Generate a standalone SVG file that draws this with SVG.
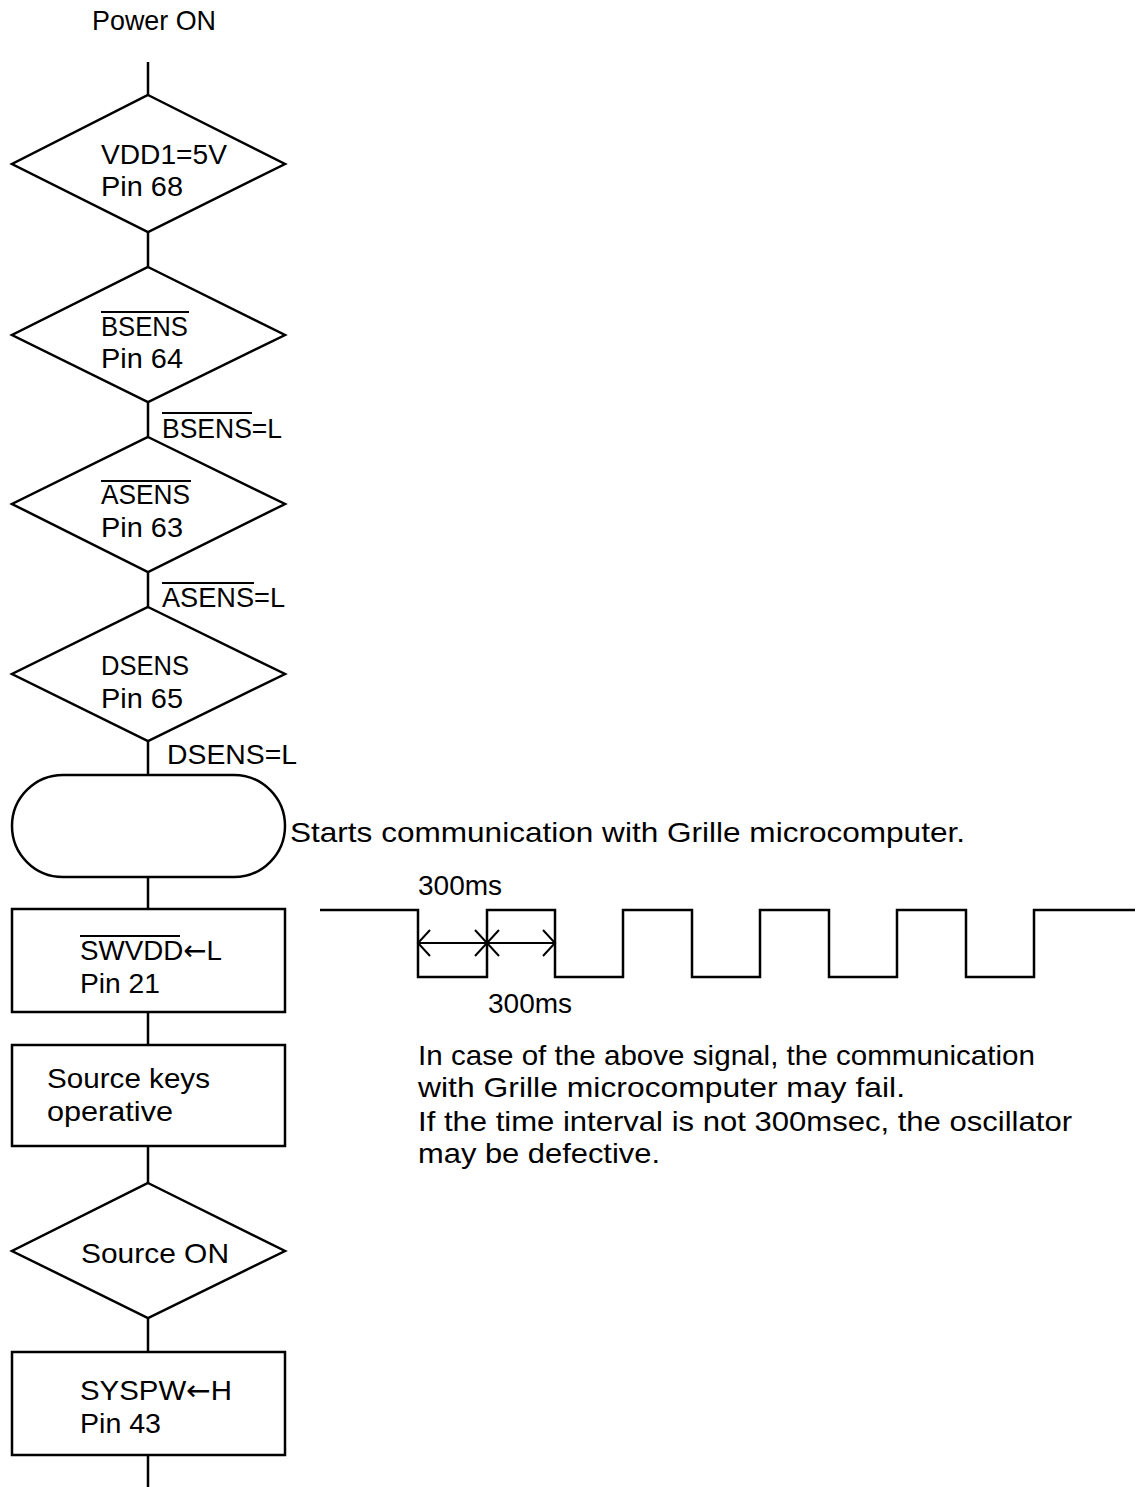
<svg xmlns="http://www.w3.org/2000/svg" width="1139" height="1487" viewBox="0 0 1139 1487">
<style>
.s{fill:none;stroke:#000;stroke-width:2.5}
.t{font-family:"Liberation Sans",Arial,sans-serif;font-size:28px;fill:#000}
.ar{font-family:"DejaVu Sans",sans-serif;font-size:28px}
.ob{stroke:#000;stroke-width:2}
.w{fill:none;stroke:#000;stroke-width:2.5}
</style>
<defs>
<marker id="oa" viewBox="-14 -14 16 28" refX="0" refY="0" markerWidth="16" markerHeight="28" markerUnits="userSpaceOnUse" orient="auto-start-reverse">
<path d="M-12,-13 L0,0 L-12,13" fill="none" stroke="#000" stroke-width="2"/>
</marker>
</defs>
<rect width="1139" height="1487" fill="#fff"/>
<text class="t" x="92" y="30" textLength="124" lengthAdjust="spacingAndGlyphs">Power ON</text>
<g id="connectors">
<path class="s" d="M148,62V95 M148,232V267 M148,402V437 M148,572V607 M148,741V775 M148,877V909 M148,1012V1045 M148,1146V1183 M148,1318V1352 M148,1455V1487"/>
</g>
<g id="n1"><polygon class="s" points="148,95 285,164 148,232 12,164"/>
<text class="t" x="101" y="164" textLength="126" lengthAdjust="spacingAndGlyphs">VDD1=5V</text><text class="t" x="101" y="196" textLength="82" lengthAdjust="spacingAndGlyphs">Pin 68</text></g>
<g id="n2"><polygon class="s" points="148,267 285,335 148,402 12,335"/>
<line class="ob" x1="101" y1="312" x2="189" y2="312"/>
<text class="t" x="101" y="336" textLength="87" lengthAdjust="spacingAndGlyphs">BSENS</text><text class="t" x="101" y="368" textLength="82" lengthAdjust="spacingAndGlyphs">Pin 64</text></g>
<g id="l1"><line class="ob" x1="162" y1="413" x2="252" y2="413"/><text class="t" x="162" y="438" textLength="120" lengthAdjust="spacingAndGlyphs">BSENS=L</text></g>
<g id="n3"><polygon class="s" points="148,437 285,504 148,572 12,504"/>
<line class="ob" x1="101" y1="481" x2="191" y2="481"/>
<text class="t" x="101" y="504" textLength="89" lengthAdjust="spacingAndGlyphs">ASENS</text><text class="t" x="101" y="537" textLength="82" lengthAdjust="spacingAndGlyphs">Pin 63</text></g>
<g id="l2"><line class="ob" x1="162" y1="583" x2="254" y2="583"/><text class="t" x="162" y="607" textLength="123" lengthAdjust="spacingAndGlyphs">ASENS=L</text></g>
<g id="n4"><polygon class="s" points="148,607 285,674 148,741 12,674"/>
<text class="t" x="101" y="675" textLength="88" lengthAdjust="spacingAndGlyphs">DSENS</text><text class="t" x="101" y="708" textLength="82" lengthAdjust="spacingAndGlyphs">Pin 65</text></g>
<g id="l3"><text class="t" x="167" y="764" textLength="130" lengthAdjust="spacingAndGlyphs">DSENS=L</text></g>
<g id="n5"><path class="s" d="M63,775H234A51,51 0 0 1 234,877H63A51,51 0 0 1 63,775Z"/></g>
<text class="t" x="290" y="842" textLength="675" lengthAdjust="spacingAndGlyphs">Starts communication with Grille microcomputer.</text>
<g id="n6"><rect class="s" x="12" y="909" width="273" height="103"/>
<line class="ob" x1="80" y1="936" x2="180" y2="936"/>
<text class="t" x="80" y="960" textLength="142" lengthAdjust="spacingAndGlyphs">SWVDD<tspan class="ar">←</tspan>L</text><text class="t" x="80" y="993" textLength="80" lengthAdjust="spacingAndGlyphs">Pin 21</text></g>
<g id="n7"><rect class="s" x="12" y="1045" width="273" height="101"/>
<text class="t" x="47" y="1088" textLength="163" lengthAdjust="spacingAndGlyphs">Source keys</text><text class="t" x="47" y="1121" textLength="126" lengthAdjust="spacingAndGlyphs">operative</text></g>
<g id="n8"><polygon class="s" points="148,1183 285,1251 148,1318 12,1251"/>
<text class="t" x="81" y="1263" textLength="148" lengthAdjust="spacingAndGlyphs">Source ON</text></g>
<g id="n9"><rect class="s" x="12" y="1352" width="273" height="103"/>
<text class="t" x="80" y="1400" textLength="152" lengthAdjust="spacingAndGlyphs">SYSPW<tspan class="ar">←</tspan>H</text><text class="t" x="80" y="1433" textLength="81" lengthAdjust="spacingAndGlyphs">Pin 43</text></g>
<g id="wave">
<path class="w" d="M320,910H418V977H487V910H555V977H623V910H692V977H760V910H829V977H897V910H966V977H1034V910H1135"/>
<line class="ob" x1="418" y1="943" x2="487" y2="943" marker-start="url(#oa)" marker-end="url(#oa)"/>
<line class="ob" x1="487" y1="943" x2="555" y2="943" marker-start="url(#oa)" marker-end="url(#oa)"/>
<text class="t" x="418" y="895">300ms</text>
<text class="t" x="488" y="1013">300ms</text>
</g>
<text class="t" x="418" y="1065" textLength="617" lengthAdjust="spacingAndGlyphs">In case of the above signal, the communication</text>
<text class="t" x="418" y="1097" textLength="487" lengthAdjust="spacingAndGlyphs">with Grille microcomputer may fail.</text>
<text class="t" x="418" y="1131" textLength="654" lengthAdjust="spacingAndGlyphs">If the time interval is not 300msec, the oscillator</text>
<text class="t" x="418" y="1163" textLength="242" lengthAdjust="spacingAndGlyphs">may be defective.</text>
</svg>
